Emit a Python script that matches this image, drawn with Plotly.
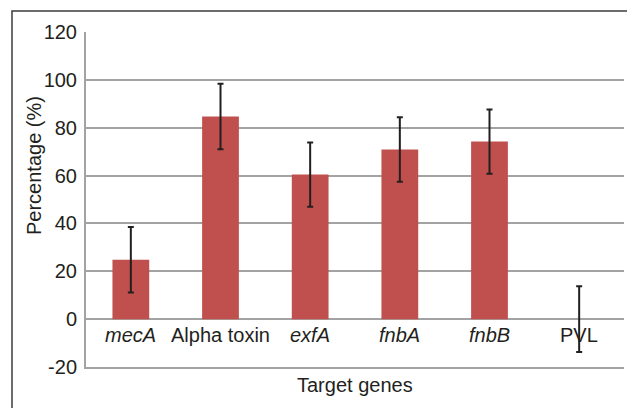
import plotly.graph_objects as go

categories = ["<i>mecA</i>", "Alpha toxin", "<i>exfA</i>", "<i>fnbA</i>", "<i>fnbB</i>", "PVL"]
percentages = [24.8, 84.7, 60.4, 70.9, 74.2, 0.0]
errors = [13.7, 13.7, 13.4, 13.5, 13.4, 13.7]
y_ticks = [-20, 0, 20, 40, 60, 80, 100, 120]
y_tick_labels = ["-20", "0", "20", "40", "60", "80", "100", "120"]

W, H = 627, 408
ML, MR, MT, MB = 86, 3, 32, 41
pw, ph = W - ML - MR, H - MT - MB
ymin, ymax = -20, 120

font_fam = "Liberation Sans, Arial, sans-serif"
txt = "#231F20"
grid = "#A3A3A3"
FS = 20

xs = list(range(len(categories)))
fig = go.Figure(go.Bar(
    x=xs, y=percentages,
    marker=dict(color="#C0504D", line=dict(width=0)),
    width=0.41,
    error_y=dict(type="data", array=errors, visible=True, color="#231F20", thickness=2, width=3),
))

annotations = [dict(text=c, x=x, y=0, xref="x", yref="y", yanchor="top", xanchor="center",
                    yshift=-3, showarrow=False, font=dict(size=FS, color=txt))
               for x, c in zip(xs, categories)]
annotations.append(dict(text="Target genes", xref="paper", yref="paper", x=0.5,
                        y=-(385 - (H - MB)) / ph, xanchor="center", yanchor="middle",
                        showarrow=False, font=dict(size=FS, color=txt)))
annotations.append(dict(text="Percentage (%)", xref="paper", yref="paper", x=(34 - ML) / pw,
                        y=1 - (166 - MT) / ph, xanchor="center", yanchor="middle", textangle=-90,
                        showarrow=False, font=dict(size=FS, color=txt)))

fig.update_layout(
    template="none",
    width=W, height=H, margin=dict(l=ML, r=MR, t=MT, b=MB, autoexpand=False),
    paper_bgcolor="white", plot_bgcolor="white", showlegend=False,
    font=dict(family=font_fam, size=FS, color=txt),
    xaxis=dict(range=[-0.5, 5.5], showgrid=False, showline=True, linecolor=grid, linewidth=2,
               zeroline=False, showticklabels=False, ticks="", automargin=False),
    yaxis=dict(range=[ymin, ymax], tickmode="array", tickvals=y_ticks, ticktext=y_tick_labels,
               showgrid=True, gridcolor=grid, gridwidth=2,
               zeroline=True, zerolinecolor=grid, zerolinewidth=2,
               showline=True, linecolor=grid, linewidth=2, automargin=False,
               ticks="", ticklabelstandoff=3, tickfont=dict(size=FS, color=txt)),
    annotations=annotations,
    shapes=[dict(type="rect", xref="paper", yref="paper",
                 x0=(12 - ML) / pw, x1=1.2, y0=-0.5, y1=1 + (MT - 11) / ph,
                 line=dict(color="#3C3C3C", width=1.5), fillcolor="rgba(0,0,0,0)", layer="above")],
)
fig.write_html("out.html", config={"displayModeBar": False},
               post_script="document.body.style.margin='0';")
